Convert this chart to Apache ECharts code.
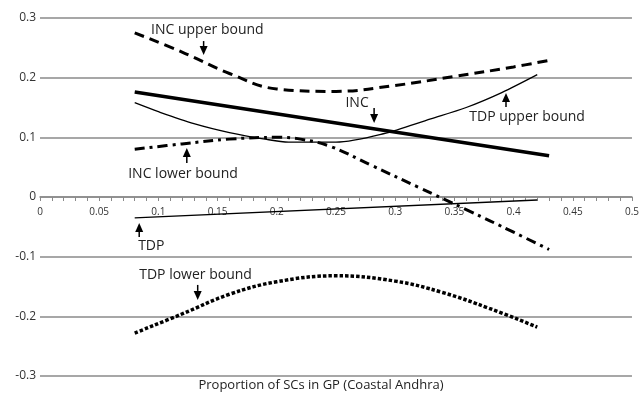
<!DOCTYPE html>
<html>
<head>
    <meta charset="utf-8">
    <title>Proportion of SCs in GP (Coastal Andhra)</title>
    <script src="https://cdn.jsdelivr.net/npm/echarts@6/dist/echarts.min.js"></script>
    <style>
        body { margin: 0; background: #fff; }
    </style>
</head>
<body>
<div id="main" style="width: 642px;height:396px;"></div>

<script type="text/javascript">
    // values, [x, y]
    var incUpper = [[0.08,0.275],[0.12,0.243],[0.16,0.207],[0.2,0.181],[0.25,0.177],[0.3,0.187],[0.35,0.202],[0.4,0.218],[0.43,0.229]];
    var incMid = [[0.08,0.176],[0.43,0.069]];
    var incLower = [[0.08,0.08],[0.12,0.089],[0.16,0.097],[0.2,0.1],[0.22,0.097],[0.245,0.085],[0.28,0.053],[0.32,0.016],[0.36,-0.021],[0.4,-0.059],[0.43,-0.088]];
    var tdpUpper = [[0.08,0.158],[0.1,0.143],[0.13,0.123],[0.16,0.108],[0.19,0.097],[0.21,0.092],[0.25,0.092],[0.29,0.106],[0.33,0.131],[0.36,0.150],[0.39,0.175],[0.42,0.205]];
    var tdpMid = [[0.08,-0.035],[0.42,-0.005]];
    var tdpLower = [[0.08,-0.228],[0.12,-0.196],[0.16,-0.163],[0.2,-0.142],[0.25,-0.132],[0.3,-0.141],[0.34,-0.16],[0.38,-0.187],[0.42,-0.218]];

    // annotation labels: text anchor (left, middle) and arrow tip, in data units
    var annoText = ['INC upper bound', 'INC', 'TDP upper bound', 'INC lower bound', 'TDP', 'TDP lower bound'];
    var annoTextAt = [[0.0938,0.2797],[0.258,0.1575],[0.3626,0.134],[0.0745,0.0385],[0.0829,-0.0821],[0.0838,-0.1307]];
    var annoTip = [[0.1382,0.2379],[0.2822,0.124],[0.3936,0.1742],[0.124,0.082],[0.0838,-0.0436],[0.1332,-0.1725]];
    var annoDir = ['down','down','up','up','up','down'];
    var annoLen = [14, 15, 14, 15, 14, 15];

    var myChart = echarts.init(document.getElementById('main'));
    var font = 'Open Sans, Noto Sans, sans-serif';
    var gray = '#8a8a8a';
    var gridBottom = 20;

    function lineSeries(name, data, width, type, smooth) {
        return {
            name: name,
            type: 'line',
            data: data,
            smooth: smooth,
            symbol: 'none',
            silent: true,
            animation: false,
            lineStyle: { color: '#000', width: width, type: type, cap: 'butt' }
        };
    }

    var option = {
        animation: false,
        grid: { left: 40, right: 5, top: 18, bottom: gridBottom },
        title: {
            text: 'Proportion of SCs in GP (Coastal Andhra)',
            left: 'center',
            bottom: -1,
            textStyle: { fontFamily: font, fontSize: 13, fontWeight: 'normal', color: '#222' }
        },
        xAxis: {
            type: 'value',
            min: 0,
            max: 0.5,
            interval: 0.05,
            axisLine: { show: true, onZero: false, lineStyle: { color: gray, width: 1.5 } },
            axisTick: { show: true, length: 4, lineStyle: { color: gray } },
            minorTick: { show: true, splitNumber: 5, length: 4, lineStyle: { color: gray } },
            axisLabel: { fontFamily: font, fontSize: 10, color: '#333', margin: 10 },
            splitLine: { show: false }
        },
        yAxis: {
            type: 'value',
            min: -0.3,
            max: 0.3,
            interval: 0.1,
            axisLine: { show: false },
            axisTick: { show: false },
            axisLabel: {
                fontFamily: font, fontSize: 12, color: '#333', margin: 4,
                formatter: function (v) { return String(Math.round(v * 10) / 10); }
            },
            splitLine: { show: true, lineStyle: { color: gray, width: 1.5 } }
        },
        series: [
            lineSeries('INC upper bound', incUpper, 3, [10, 6], 0.4),
            lineSeries('INC', incMid, 3.5, 'solid', false),
            lineSeries('INC lower bound', incLower, 3, [10, 5, 3, 5], 0.4),
            lineSeries('TDP upper bound', tdpUpper, 1.3, 'solid', 0.3),
            lineSeries('TDP', tdpMid, 1.3, 'solid', false),
            lineSeries('TDP lower bound', tdpLower, 3.5, [3.5, 2], 0.4)
        ]
    };
    myChart.setOption(option);

    // move the x axis (line, ticks and labels) up to y = 0
    var zeroY = myChart.convertToPixel({ yAxisIndex: 0 }, 0);
    var bottomY = myChart.getHeight() - gridBottom;

    // labels and arrows placed through the chart's own scales
    var elements = [];
    for (var i = 0; i < annoText.length; i++) {
        var t = myChart.convertToPixel({ gridIndex: 0 }, annoTextAt[i]);
        var tip = myChart.convertToPixel({ gridIndex: 0 }, annoTip[i]);
        var s = annoDir[i] === 'down' ? -1 : 1;
        var headH = 9, half = 4;
        elements.push({
            type: 'text',
            x: t[0], y: t[1],
            style: { text: annoText[i], fontFamily: font, fontSize: 14, fill: '#222', verticalAlign: 'middle', align: 'left' }
        });
        elements.push({
            type: 'polygon',
            shape: { points: [[tip[0], tip[1]], [tip[0] - half, tip[1] + s * headH], [tip[0] + half, tip[1] + s * headH]] },
            style: { fill: '#000' }
        });
        elements.push({
            type: 'line',
            shape: { x1: tip[0], y1: tip[1] + s * headH, x2: tip[0], y2: tip[1] + s * annoLen[i] },
            style: { stroke: '#000', lineWidth: 1.5 }
        });
    }
    myChart.setOption({
        xAxis: { offset: -(bottomY - zeroY) },
        graphic: { elements: elements }
    });
</script>
</body>
</html>
